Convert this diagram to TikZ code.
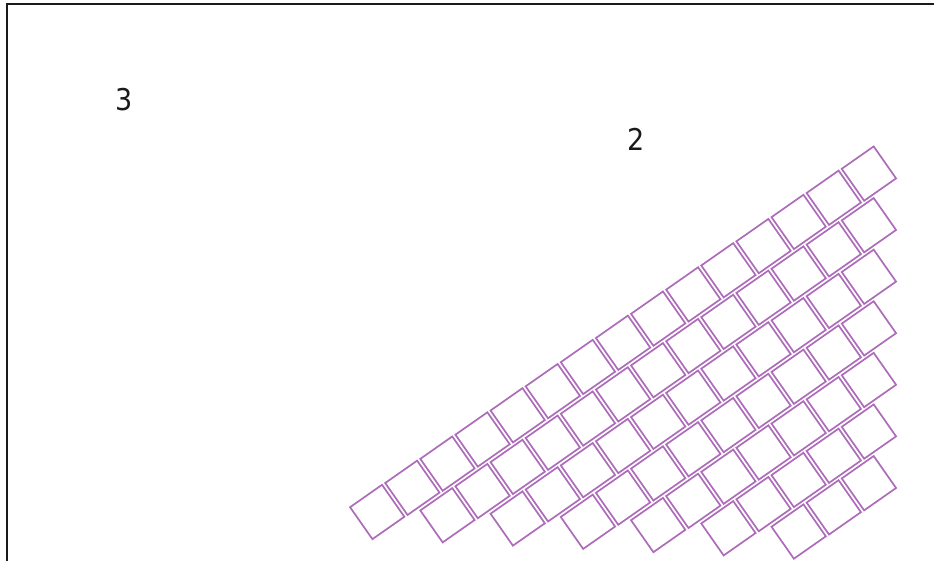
\documentclass[tikz,border=0pt]{standalone}
\usepackage{fontspec}
\newfontfamily\labelfont{DejaVu Sans Condensed}
\usepackage{xcolor}
\definecolor{tile1}{HTML}{AD6CB9}
\definecolor{dark1}{HTML}{1A1A1A}
\usepackage{tikz}

\begin{document}
\begin{tikzpicture}[x=1pt,y=-1pt,
  tile/.style={rectangle,draw=tile1,line width=1.7pt,minimum size=39pt,
               inner sep=0pt,rotate=35},
  num/.style={font=\labelfont\fontsize{30}{30}\selectfont,text=dark1},
  border1/.style={draw=dark1,line width=2pt},
]
  \useasboundingbox (0,0) rectangle (934,561);
  \draw[border1] (6.5,562) -- (6.5,4) -- (935,4);

  \node[num] (n3) at (124,100) {3};
  \node[num] (n2) at (636,139) {2};

  \foreach \r in {0,...,6}{
    \pgfmathtruncatemacro{\last}{14-2*\r}
    \foreach \c in {0,...,\last}{
      \node[tile] (t-\r-\c) at ({868.9-35.12*\c},{173.6+51.6*\r+24.17*\c}) {};
    }
  }
\end{tikzpicture}
\end{document}
